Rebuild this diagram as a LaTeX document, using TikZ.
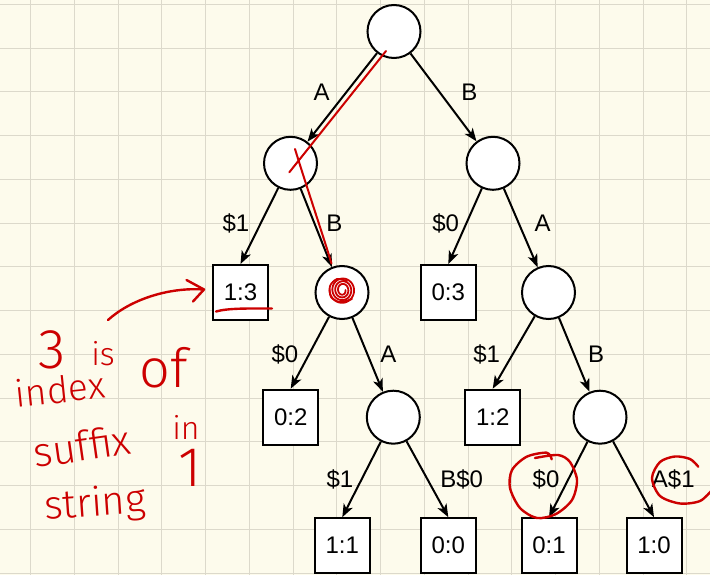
\documentclass[tikz,border=0pt]{standalone}
\usepackage{fontspec}
\setmainfont{Liberation Sans}
\newfontfamily\handfont{Fira Sans Light}
\usetikzlibrary{arrows.meta}
\definecolor{paper}{RGB}{253,251,236}
\definecolor{gridc}{RGB}{220,217,203}
\definecolor{pen}{RGB}{204,0,0}

\begin{document}
\begin{tikzpicture}[x=1pt,y=-1pt,
  state/.style={circle,draw,fill=white,line width=2pt,minimum size=53pt,inner sep=0pt},
  leaf/.style={rectangle,draw,fill=white,line width=2pt,minimum size=55pt,inner sep=0pt,
               font=\fontsize{24}{28}\selectfont},
  edge/.style={line width=2pt,-{Stealth[length=13pt,width=10pt,inset=3.5pt]}},
  lbl/.style={anchor=base,inner sep=0pt,font=\fontsize{24}{28}\selectfont},
  ink/.style={pen,line width=2.4pt,line cap=round,line join=round},
  hand/.style={pen,inner sep=0pt}
]
% paper and grid
\fill[paper] (0,0) rectangle (710,575);
\useasboundingbox (0,0) rectangle (710,575);
\foreach \i in {0,...,15} \draw[gridc,line width=1pt] ({30.7+43.75*\i},0) -- ({30.7+43.75*\i},575);
\foreach \j in {0,...,13} \draw[gridc,line width=1pt] (0,{4.3+43.75*\j}) -- (710,{4.3+43.75*\j});

% tree nodes
\node[state] (root) at (394,31.5) {};
\node[state] (nA)   at (290.5,163.3) {};
\node[state] (nB)   at (493,163.3) {};
\node[leaf]  (l13)  at (240.5,292.5) {1:3};
\node[state] (nAB)  at (342,292.5) {};
\node[leaf]  (l03)  at (448.3,292.5) {0:3};
\node[state] (nBA)  at (548.5,292.5) {};
\node[leaf]  (l02)  at (290.7,417.2) {0:2};
\node[state] (nABA) at (393.3,417.2) {};
\node[leaf]  (l12)  at (492.7,417.2) {1:2};
\node[state] (nBAB) at (600,417.2) {};
\node[leaf]  (l11)  at (342.3,545.7) {1:1};
\node[leaf]  (l00)  at (448.3,545.7) {0:0};
\node[leaf]  (l01)  at (549,545.7) {0:1};
\node[leaf]  (l10)  at (654,545.7) {1:0};

% edges
\draw[edge] (root) -- (nA);
\draw[edge] (root) -- (nB);
\draw[edge] (nA) -- (l13.north);
\draw[edge] (nA) -- (nAB);
\draw[edge] (nB) -- (l03.north);
\draw[edge] (nB) -- (nBA);
\draw[edge] (nAB) -- (l02.north);
\draw[edge] (nAB) -- (nABA);
\draw[edge] (nBA) -- (l12.north);
\draw[edge] (nBA) -- (nBAB);
\draw[edge] (nABA) -- (l11.north);
\draw[edge] (nABA) -- (l00.north);
\draw[edge] (nBAB) -- (l01.north);
\draw[edge] (nBAB) -- (l10.north);

% edge labels
\node[lbl] (tA1) at (321.7,101) {A};
\node[lbl] (tB1) at (469.3,101) {B};
\node[lbl] (tS1) at (236,231) {\$1};
\node[lbl] (tB2) at (334.3,231) {B};
\node[lbl] (tS0) at (445.7,231) {\$0};
\node[lbl] (tA2) at (542.7,231) {A};
\node[lbl] (tS2) at (285,362.7) {\$0};
\node[lbl] (tA3) at (388.3,362.7) {A};
\node[lbl] (tS3) at (486.7,362.7) {\$1};
\node[lbl] (tB3) at (596,362.7) {B};
\node[lbl] (tS4) at (340,487.7) {\$1};
\node[lbl] (tB4) at (461.7,487.7) {B\$0};
\node[lbl] (tS5) at (546,487.7) {\$0};
\node[lbl] (tA4) at (673.3,487.7) {A\$1};

% red pen marks
\draw[ink,line width=2pt] (386,51) -- (289.3,172.3);
\draw[ink,line width=2pt] (295,149) .. controls (306,185) and (322,232) .. (331.5,263.5);
\draw[ink,line width=1.8pt] plot[domain=0:1260,samples=160,smooth]
  ({342.5+(3+10*\x/1260)*cos(\x)},{290+(4+9.5*\x/1260)*sin(\x)});
\draw[ink,line width=1.8pt] plot[smooth] coordinates {(347,281) (337,279) (330,286) (331,297) (340,302) (352,299)};
\draw[ink] (216,311.5) .. controls (228,308) and (250,308.5) .. (272,308.5);
\draw[ink] (108,320) .. controls (130,300) and (168,287) .. (204,289.5);
\draw[ink] (186.5,280) -- (204,289.5) -- (193,301.5);
\draw[ink] plot[smooth] coordinates {(551.7,459.3) (546.7,452.7) (526.7,456.7) (512,470)
  (510,488) (520,508) (537,518) (556,514) (572,500) (577,480) (570,462) (558,455) (535,458)};
\draw[ink] plot[smooth] coordinates {(698.3,466.7) (690,459) (675,456.5) (660,462) (652,478)
  (660,496) (680,503.5) (700,501) (712,490)};

% handwritten note
\node[hand,font=\handfont\fontsize{56}{58}\selectfont] (h3) at (52,350) {3};
\node[hand,font=\handfont\fontsize{32}{34}\selectfont] (his) at (103,354) {is};
\node[hand,font=\handfont\fontsize{37}{39}\selectfont,rotate=6] (hindex) at (60,389) {index};
\node[hand,font=\handfont\fontsize{54}{56}\selectfont] (hof) at (164,368) {of};
\node[hand,font=\handfont\fontsize{41}{43}\selectfont,rotate=8] (hsuffix) at (82,446) {suffix};
\node[hand,font=\handfont\fontsize{32}{34}\selectfont] (hin) at (186,427) {in};
\node[hand,font=\handfont\fontsize{40}{42}\selectfont,rotate=4] (hstring) at (95,505) {string};
\node[hand,font=\handfont\fontsize{56}{58}\selectfont] (hone) at (190,468) {1};
\end{tikzpicture}
\end{document}
